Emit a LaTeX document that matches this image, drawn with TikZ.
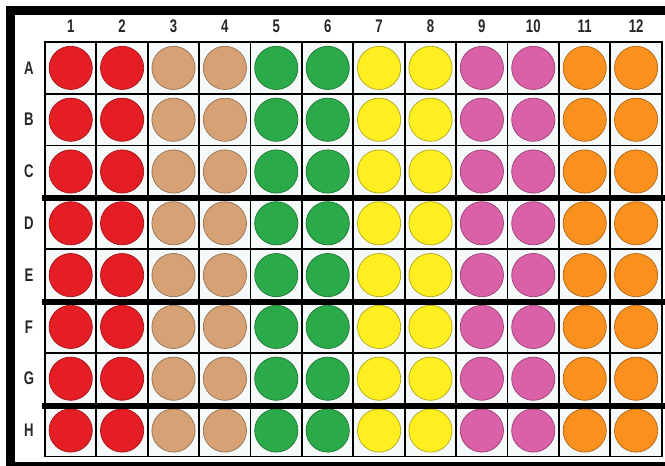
\documentclass[tikz,border=0pt]{standalone}
\usepackage{fontspec}
\setmainfont{Liberation Sans}[FakeStretch=0.72]
\usepackage{xcolor}

\definecolor{cellbg}{RGB}{246,249,250}
\definecolor{wellred}{RGB}{228,30,36}
\definecolor{welltan}{RGB}{214,162,117}
\definecolor{wellgreen}{RGB}{42,170,72}
\definecolor{wellyellow}{RGB}{255,238,32}
\definecolor{wellpink}{RGB}{218,96,168}
\definecolor{wellorange}{RGB}{250,145,30}

\begin{document}
\begin{tikzpicture}[
  x=0.025cm, y=-0.025cm,
  font=\fontsize{13}{15}\selectfont\bfseries,
  cell/.style={draw, line width=0.045cm, fill=cellbg, minimum width=1.285cm, minimum height=1.295cm, inner sep=0pt},
  well/.style={circle, draw=#1!70!black, fill=#1, line width=0.5pt, minimum size=1.08cm, inner sep=0pt},
  head/.style={text=black!85, inner sep=0pt},
  divider/.style={line width=0.15cm}
]
  \useasboundingbox (0,0) rectangle (665,466);
  % plate frame
  \fill (6,6) rectangle (665,15);
  \fill (6,6) rectangle (15,466);
  \fill (6,462) rectangle (665,466);
  \coordinate (rightedge) at (665,0);

  \foreach \col in {1,...,12}
    \node[head] (col-\col) at ({19.3+51.4*\col},26) {\col};

  \foreach \row [count=\r] in {A,...,H} {
    \node[head] (row-\row) at (29,{16.1+51.8*\r}) {\row};
    \foreach \col/\clr in {1/wellred,2/wellred,3/welltan,4/welltan,5/wellgreen,6/wellgreen,
                           7/wellyellow,8/wellyellow,9/wellpink,10/wellpink,11/wellorange,12/wellorange} {
      \node[cell] (cell-\row\col) at ({19.3+51.4*\col},{16.1+51.8*\r}) {};
      \node[well=\clr] (\row\col) at (cell-\row\col) {};
    }
  }

  % group dividers
  \foreach \row in {C,E,G}
    \draw[divider] ([xshift=-0.05cm]cell-\row1.south west) -- (cell-\row1.south west -| rightedge);
\end{tikzpicture}
\end{document}
